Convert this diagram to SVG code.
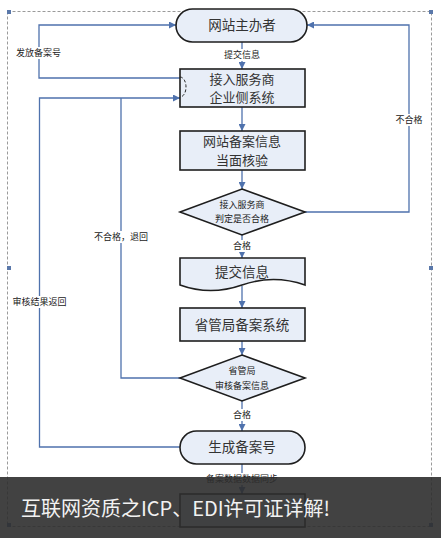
<svg xmlns="http://www.w3.org/2000/svg" width="441" height="538" viewBox="0 0 441 538">
<defs>
<marker id="ah" viewBox="0 0 10 10" refX="10" refY="5" markerWidth="7" markerHeight="7" markerUnits="userSpaceOnUse" orient="auto">
<path d="M0,0 L10,5 L0,10 Z" fill="#4f72ad"/>
</marker>
<style>
.frame{fill:none;stroke:#9a9a9a;stroke-width:1;stroke-dasharray:3,2}
.hdl{fill:#5a78aa}
.node{fill:#e8eef8;stroke:#1e1e1e;stroke-width:1.6}
.ntxt{font-family:"Noto Sans CJK SC","Noto Sans",sans-serif;font-size:13.5px;fill:#333;text-anchor:middle}
.ntxt2{font-family:"Noto Sans CJK SC","Noto Sans",sans-serif;font-size:13px;fill:#333;text-anchor:middle}
.dtxt{font-family:"Noto Sans CJK SC","Noto Sans",sans-serif;font-size:9px;fill:#222;text-anchor:middle}
.conn{fill:none;stroke:#4f72ad;stroke-width:1.3}
.lbl{font-family:"Noto Sans CJK SC","Noto Sans",sans-serif;font-size:9px;fill:#222;text-anchor:middle}
.lblbg{fill:#fff}
</style>
</defs>
<rect width="441" height="538" fill="#fff"/>
<rect class="frame" x="7.5" y="11.5" width="424" height="515"/>
<g id="handles">
<rect class="hdl" x="7" y="10" width="4" height="4"/>
<rect class="hdl" x="217" y="9" width="4" height="4"/>
<rect class="hdl" x="429" y="10" width="4" height="4"/>
<rect class="hdl" x="7" y="266" width="4" height="4"/>
<rect class="hdl" x="429" y="266" width="4" height="4"/>
<rect class="hdl" x="7" y="523" width="4" height="4"/>
<rect class="hdl" x="217" y="523" width="4" height="4"/>
<rect class="hdl" x="429" y="523" width="4" height="4"/>
</g>
<g id="connectors">
<path class="conn" d="M242,42 V69" marker-end="url(#ah)"/>
<path class="conn" d="M242,107 V131" marker-end="url(#ah)"/>
<path class="conn" d="M242,170 V189" marker-end="url(#ah)"/>
<path class="conn" d="M242,235 V258" marker-end="url(#ah)"/>
<path class="conn" d="M242,286 V308" marker-end="url(#ah)"/>
<path class="conn" d="M242,341 V355" marker-end="url(#ah)"/>
<path class="conn" d="M242,401 V431" marker-end="url(#ah)"/>
<path class="conn" d="M242,464 V494" marker-end="url(#ah)"/>
<path class="conn" d="M180,78 H39 V25 H176" marker-end="url(#ah)"/>
<path class="conn" d="M180,447 H39.5 V98 H180" marker-end="url(#ah)"/>
<path class="conn" d="M180,378 H121 V98"/>
<path class="conn" d="M305,212 H409 V25 H307" marker-end="url(#ah)"/>
<rect class="lblbg" x="222" y="49" width="40" height="12"/>
<text class="lbl" x="242" y="58">提交信息</text>
<rect class="lblbg" x="15" y="47" width="47" height="12"/>
<text class="lbl" x="38.5" y="56">发放备案号</text>
<rect class="lblbg" x="394" y="114" width="30" height="12"/>
<text class="lbl" x="409" y="123">不合格</text>
<rect class="lblbg" x="92" y="231" width="58" height="12"/>
<text class="lbl" x="121" y="240">不合格，退回</text>
<rect class="lblbg" x="230" y="240" width="24" height="12"/>
<text class="lbl" x="242" y="249">合格</text>
<rect class="lblbg" x="12" y="296" width="55" height="12"/>
<text class="lbl" x="39.5" y="305">审核结果返回</text>
<rect class="lblbg" x="230" y="409" width="24" height="12"/>
<text class="lbl" x="242" y="418">合格</text>
<rect class="lblbg" x="205" y="473" width="74" height="12"/>
<text class="lbl" x="242" y="482">备案数据数据同步</text>
</g>
<g id="n1">
<rect class="node" x="176" y="9" width="131" height="33" rx="16.5"/>
<text class="ntxt" x="242" y="30">网站主办者</text>
</g>
<g id="n2">
<rect class="node" x="180" y="69" width="125" height="38"/>
<path d="M180,77 A6,10 0 0 1 180,97" fill="none" stroke="#222" stroke-width="1" stroke-dasharray="3,2"/>
<text class="ntxt2" x="242" y="83.5">接入服务商</text>
<text class="ntxt2" x="242" y="101.5">企业侧系统</text>
</g>
<g id="n3">
<rect class="node" x="180" y="131" width="125" height="39"/>
<text class="ntxt2" x="242" y="146">网站备案信息</text>
<text class="ntxt2" x="242" y="164.5">当面核验</text>
</g>
<g id="n4">
<path class="node" d="M242,189 L305,212 L242,235 L180,212 Z"/>
<text class="dtxt" x="242" y="208">接入服务商</text>
<text class="dtxt" x="242" y="222">判定是否合格</text>
</g>
<g id="n5">
<path class="node" d="M180,258 H305 V285 C282,277 262,278 242,285 C222,292 202,293 180,285 Z"/>
<text class="ntxt" x="242" y="277">提交信息</text>
</g>
<g id="n6">
<rect class="node" x="180" y="308" width="125" height="33"/>
<text class="ntxt" x="242" y="330">省管局备案系统</text>
</g>
<g id="n7">
<path class="node" d="M242,355 L305,378 L242,401 L180,378 Z"/>
<text class="dtxt" x="242" y="374">省管局</text>
<text class="dtxt" x="242" y="389">审核备案信息</text>
</g>
<g id="n8">
<rect class="node" x="180" y="431" width="125" height="33" rx="16.5"/>
<text class="ntxt" x="242" y="452">生成备案号</text>
</g>
<g id="n9">
<rect class="node" x="180" y="494" width="125" height="33"/>
</g>
<g id="banner">
<rect x="0" y="477" width="441" height="61" fill="#2e2e2e" fill-opacity="0.9"/>
<text x="21" y="516" font-family="'Noto Sans CJK SC','DejaVu Sans',sans-serif" font-size="20" fill="#f2f2f2" textLength="309" lengthAdjust="spacingAndGlyphs">互联网资质之ICP、EDI许可证详解!</text>
</g>
</svg>
